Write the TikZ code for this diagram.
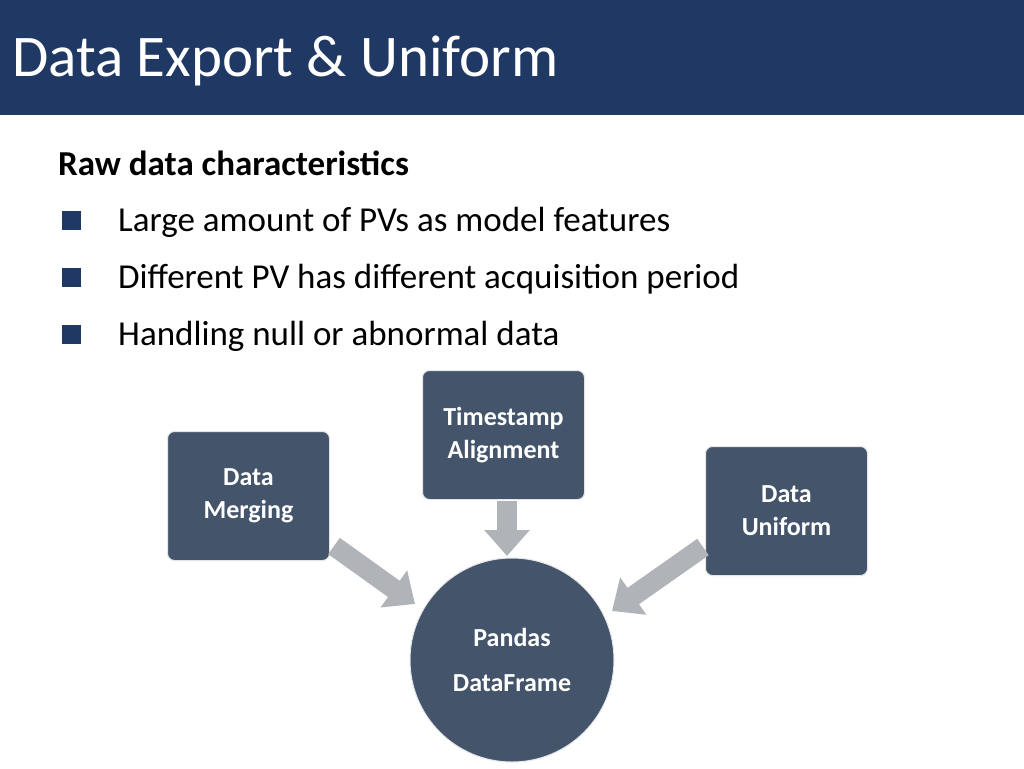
\documentclass[tikz,border=0pt]{standalone}
\usepackage{fontspec}
\setmainfont{Carlito}
\usetikzlibrary{arrows.meta}
\definecolor{navy}{HTML}{1F3864}
\definecolor{slate}{HTML}{44546A}
\definecolor{arr}{HTML}{B0B4B9}
\definecolor{bul}{HTML}{1F3864}
\tikzset{
 box/.style={draw=white!85!slate, line width=1pt, fill=slate, rounded corners=7pt, minimum width=162pt, minimum height=129pt, text=white, font=\fontsize{26}{33}\selectfont\bfseries, align=center, inner sep=0pt, anchor=north west},
 blk/.style={arr, line width=20pt, -{Triangle[width=44pt,length=26pt]}},
 txt/.style={anchor=base west, font=\fontsize{35}{40}\selectfont, inner sep=0pt},
 sq/.style={fill=bul, minimum size=19pt, inner sep=0pt}
}
\begin{document}
\begin{tikzpicture}[x=1pt,y=-1pt]
\useasboundingbox (0,0) rectangle (1024,768);
\fill[white] (0,0) rectangle (1024,768);
\fill[navy] (0,0) rectangle (1024,115);
\node[anchor=base west, inner sep=0pt, text=white, font=\fontsize{59}{60}\selectfont] (title) at (12,76) {Data Export \& Uniform};
\node[txt, font=\fontsize{35}{40}\selectfont\bfseries] (h) at (58,175) {Raw data characteristics};
\node[sq] (s1) at (71,220) {};
\node[txt] (t1) at (118,231) {Large amount of PVs as model features};
\node[sq] (s2) at (71,277) {};
\node[txt] (t2) at (118,288) {Different PV has different acquisition period};
\node[sq] (s3) at (71,334) {};
\node[txt] (t3) at (118,345) {Handling null or abnormal data};
\node[box] (m) at (167,431) {Data\\Merging};
\node[box] (ts) at (422,370) {Timestamp\\Alignment};
\node[box] (u) at (705,446) {Data\\Uniform};
\node[circle, fill=slate, draw=white!85!slate, line width=1pt, minimum size=204pt, inner sep=0pt, text=white, font=\fontsize{26}{45}\selectfont\bfseries, align=center] (c) at (512,660) {Pandas\\DataFrame};
\coordinate (m1) at (334,546); \coordinate (m2) at (415,604);
\coordinate (t1a) at (507,501); \coordinate (t2a) at (507,556);
\coordinate (u1) at (703,547); \coordinate (u2) at (612,611);
\draw[blk] (m1) -- (m2);
\draw[blk] (t1a) -- (t2a);
\draw[blk] (u1) -- (u2);
\end{tikzpicture}
\end{document}
